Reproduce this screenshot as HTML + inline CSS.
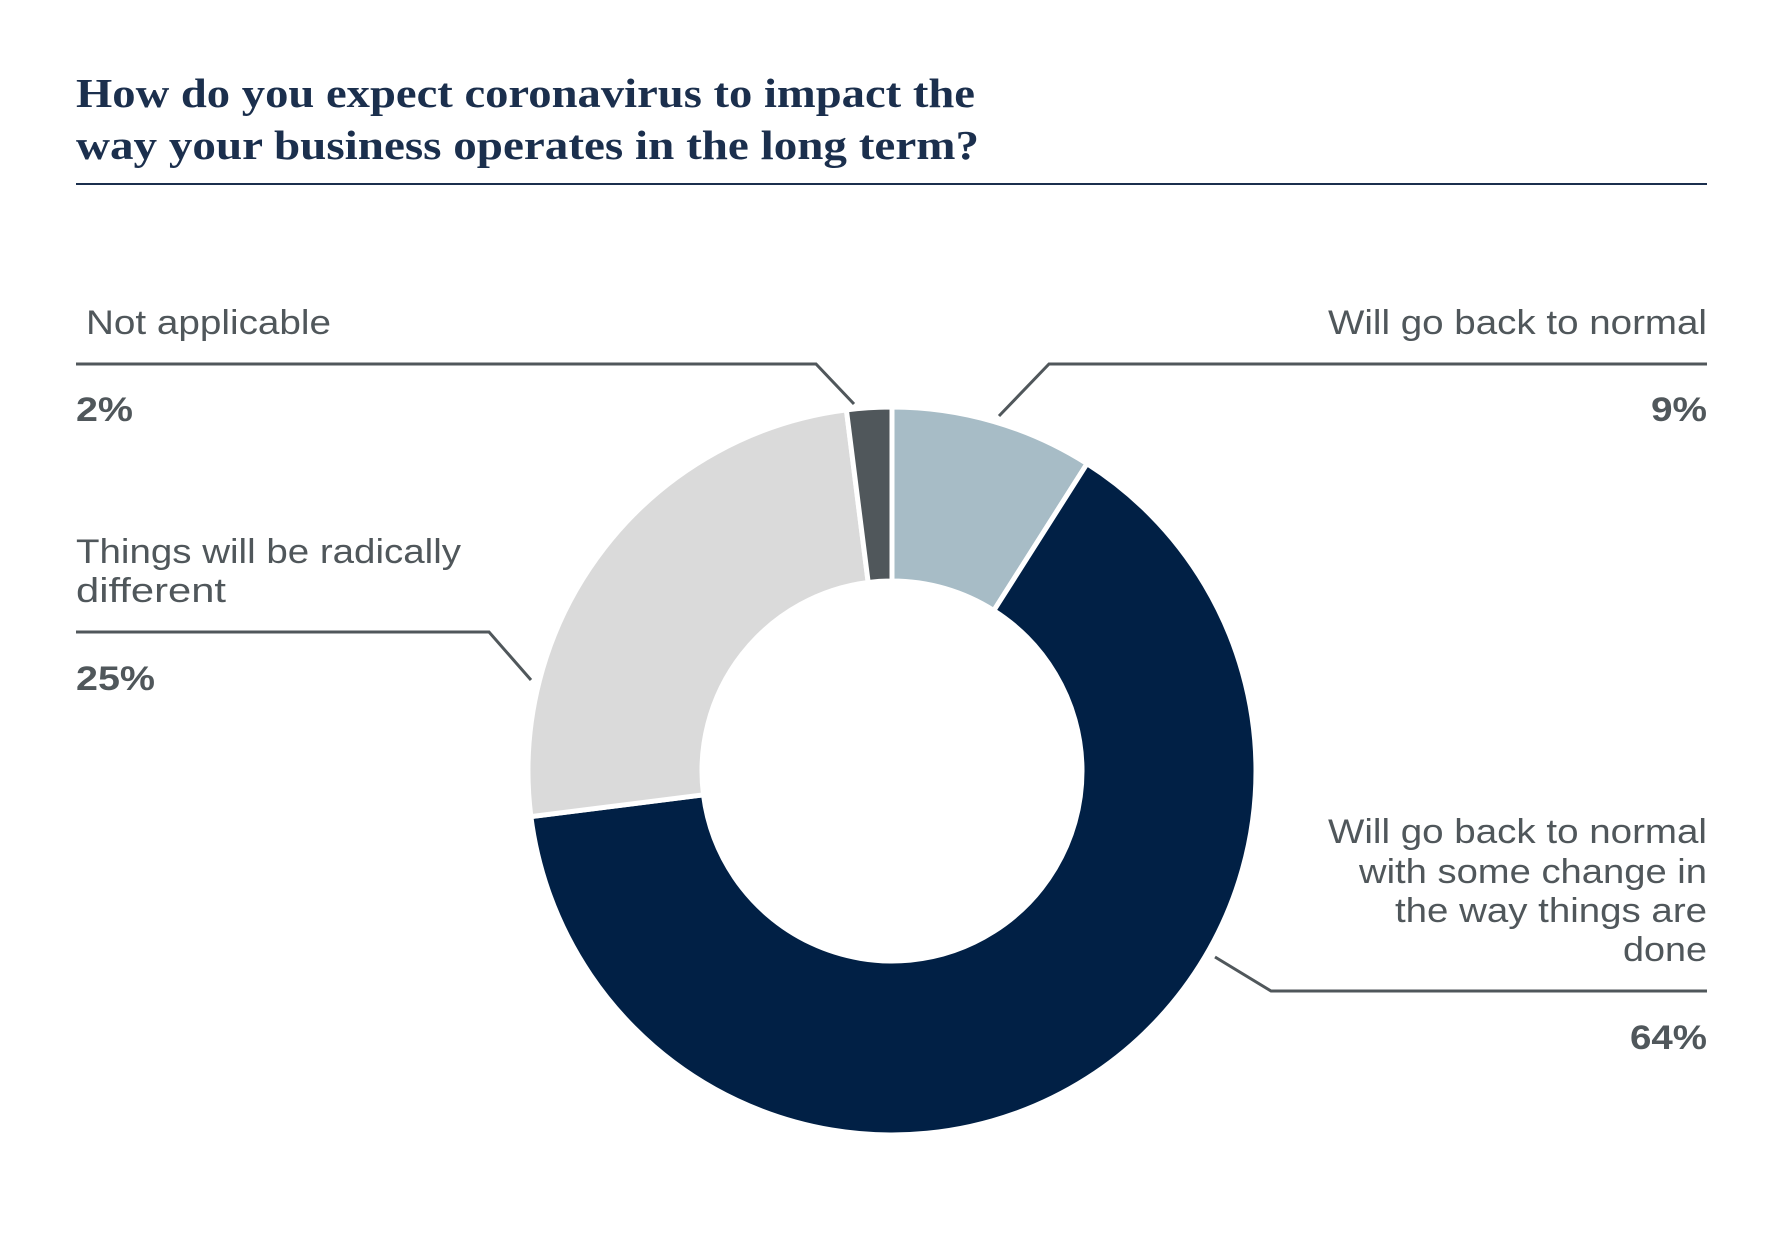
<!DOCTYPE html>
<html><head><meta charset="utf-8"><style>
html,body{margin:0;padding:0;background:#fff}
svg{display:block}
.t{font-family:"Liberation Serif",serif;font-weight:bold;font-size:41px;fill:#1b2f4d}
.l{font-family:"Liberation Sans",sans-serif;font-size:34px;fill:#50575b}
.p{font-family:"Liberation Sans",sans-serif;font-size:34px;font-weight:bold;fill:#50575b}
</style></head><body>
<svg id="s" width="1785" height="1250" viewBox="0 0 1785 1250" xmlns="http://www.w3.org/2000/svg">
<text class="t" x="76" y="107" textLength="899" lengthAdjust="spacingAndGlyphs">How do you expect coronavirus to impact the</text>
<text class="t" x="76" y="159" textLength="903" lengthAdjust="spacingAndGlyphs">way your business operates in the long term?</text>
<rect x="76" y="183" width="1631" height="2" fill="#1b2f4d"/>
<g id="arcs"></g>
<g fill="none" stroke="#50575b" stroke-width="3">
<polyline points="76,364 816,364 854,404"/>
<polyline points="1707,364 1049,364 999,416"/>
<polyline points="76,632 489,632 531,680"/>
<polyline points="1707,991 1271,991 1215,957"/>
</g>
<text class="l" x="86" y="334" textLength="245" lengthAdjust="spacingAndGlyphs">Not applicable</text>
<text class="p" x="76" y="421" textLength="57" lengthAdjust="spacingAndGlyphs">2%</text>
<text class="l" x="1707" y="334" text-anchor="end" textLength="379" lengthAdjust="spacingAndGlyphs">Will go back to normal</text>
<text class="p" x="1707" y="421" text-anchor="end" textLength="56" lengthAdjust="spacingAndGlyphs">9%</text>
<text class="l" x="76" y="563" textLength="385" lengthAdjust="spacingAndGlyphs">Things will be radically</text>
<text class="l" x="76" y="602" textLength="150" lengthAdjust="spacingAndGlyphs">different</text>
<text class="p" x="76" y="690" textLength="79" lengthAdjust="spacingAndGlyphs">25%</text>
<text class="l" x="1707" y="843" text-anchor="end" textLength="379" lengthAdjust="spacingAndGlyphs">Will go back to normal</text>
<text class="l" x="1707" y="883" text-anchor="end" textLength="348" lengthAdjust="spacingAndGlyphs">with some change in</text>
<text class="l" x="1707" y="922" text-anchor="end" textLength="312" lengthAdjust="spacingAndGlyphs">the way things are</text>
<text class="l" x="1707" y="961" text-anchor="end" textLength="84" lengthAdjust="spacingAndGlyphs">done</text>
<text class="p" x="1707" y="1049" text-anchor="end" textLength="77" lengthAdjust="spacingAndGlyphs">64%</text>
</svg>
<script>
var cx=892,cy=771,R=364,r=190;
var seg=[[0,9,"#a7bcc6"],[9,73,"#012045"],[73,98,"#dadada"],[98,100,"#50575b"]];
function pt(a,rad){a=a*Math.PI/180;return [cx+rad*Math.sin(a),cy-rad*Math.cos(a)];}
var g=document.getElementById("arcs"),h="";
seg.forEach(function(s){
var a0=s[0]*3.6,a1=s[1]*3.6,lg=(a1-a0)>180?1:0;
var p1=pt(a0,R),p2=pt(a1,R),p3=pt(a1,r),p4=pt(a0,r);
h+='<path d="M'+p1+' A'+R+','+R+' 0 '+lg+' 1 '+p2+' L'+p3+' A'+r+','+r+' 0 '+lg+' 0 '+p4+' Z" fill="'+s[2]+'" stroke="#fff" stroke-width="5" stroke-linejoin="miter"/>';
});
g.innerHTML=h;
</script>
</body></html>
